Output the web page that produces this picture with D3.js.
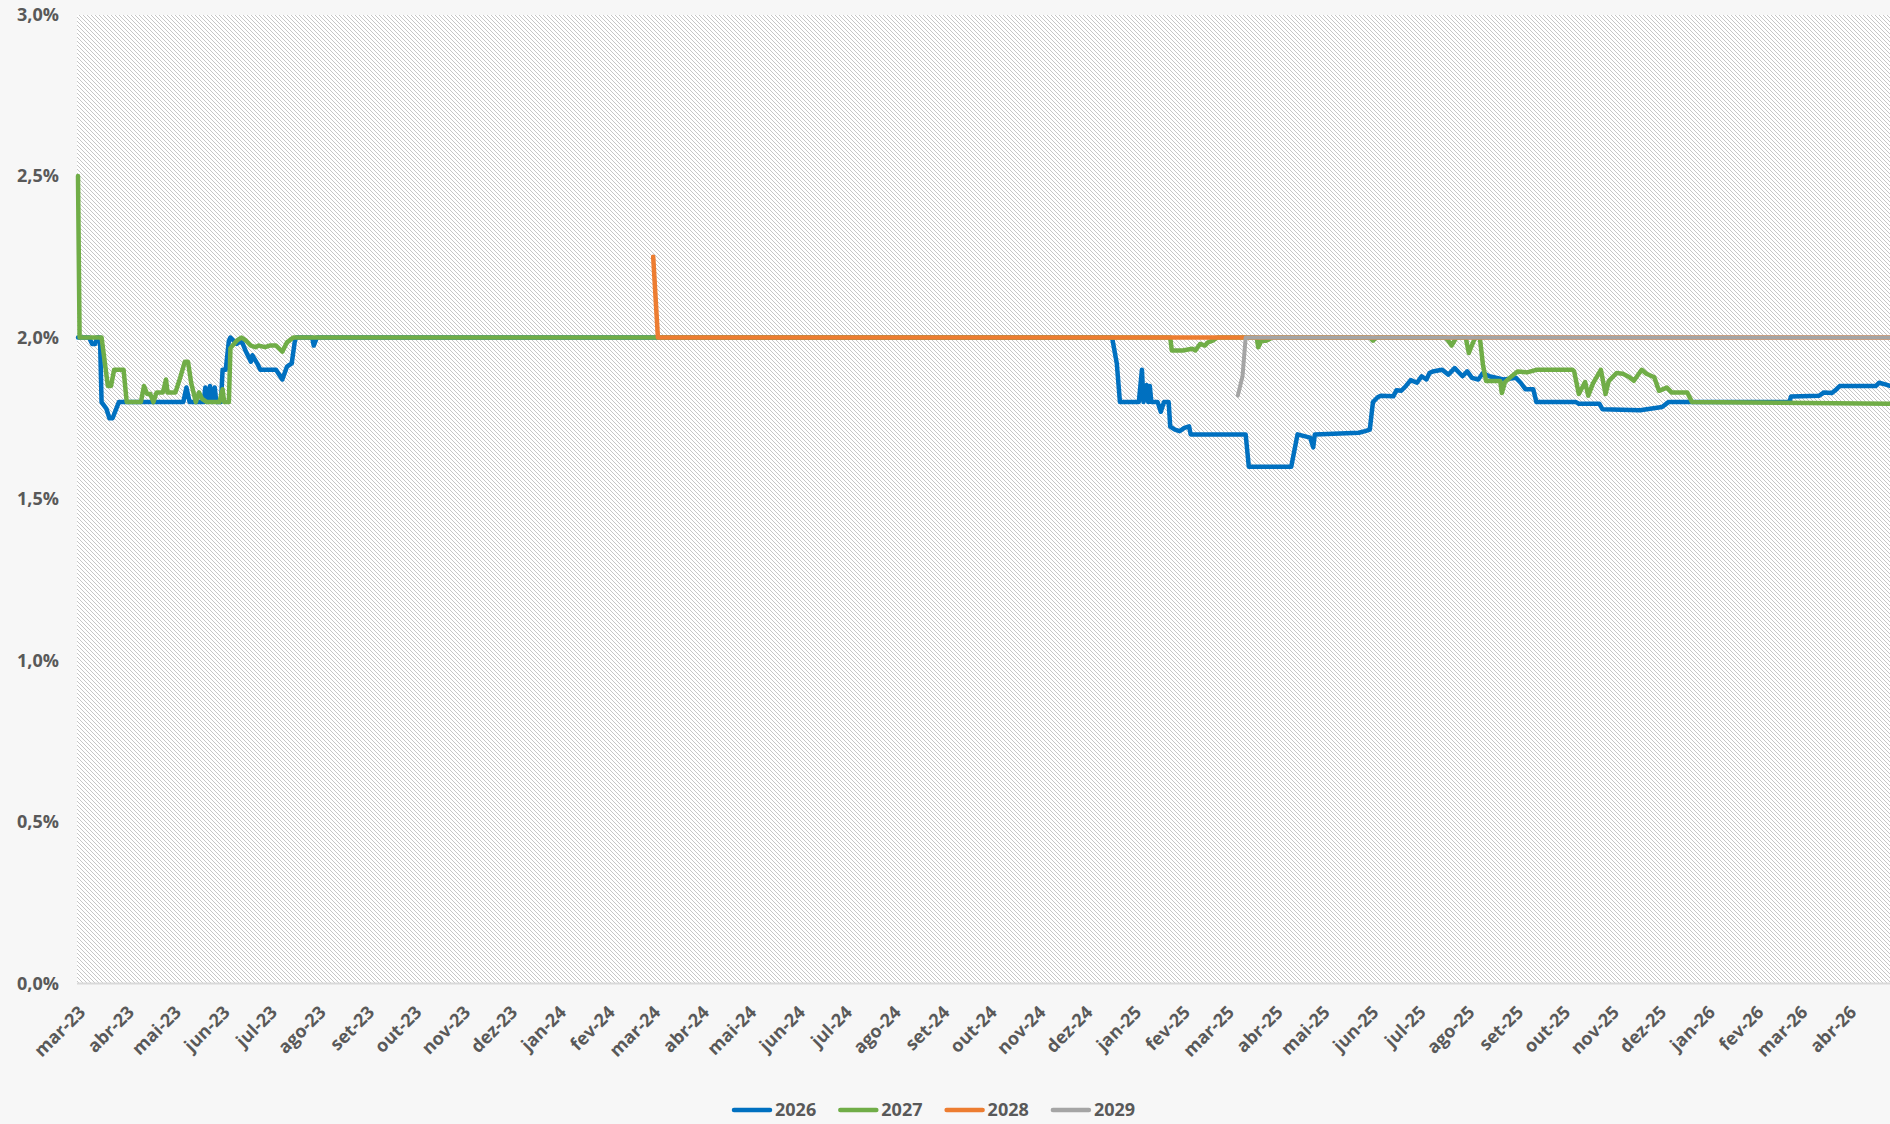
<!DOCTYPE html>
<html>
<head>
<meta charset="utf-8">
<script src="https://cdn.jsdelivr.net/npm/d3@7"></script>
<style>
    html, body { margin: 0; padding: 0; background: #f7f7f7; }
    svg { display: block; font-family: "Open Sans", sans-serif; }
</style>
</head>
<body>
<svg id="chart" width="1890" height="1124"></svg>
<script>
// Expectativas por ano-calendário (%), leitura do gráfico
const seriesNames = ["2026", "2027", "2028", "2029"];
const seriesColours = ["#0070C0", "#70AD47", "#ED7D31", "#A5A5A5"];

const yTicks = [0, 0.5, 1.0, 1.5, 2.0, 2.5, 3.0];
const monthNames = ["jan", "fev", "mar", "abr", "mai", "jun", "jul", "ago", "set", "out", "nov", "dez"];

const s2026 = [
    ["2023-03-01", 2.0], ["2023-03-08", 2.0], ["2023-03-10", 1.98], ["2023-03-12", 1.98],
    ["2023-03-13", 2.0], ["2023-03-15", 2.0], ["2023-03-16", 1.8], ["2023-03-19", 1.78],
    ["2023-03-21", 1.75], ["2023-03-23", 1.75], ["2023-03-27", 1.8], ["2023-05-07", 1.8],
    ["2023-05-09", 1.845], ["2023-05-11", 1.8], ["2023-05-20", 1.8], ["2023-05-21", 1.845],
    ["2023-05-22", 1.8], ["2023-05-24", 1.85], ["2023-05-25", 1.8], ["2023-05-27", 1.845],
    ["2023-05-28", 1.8], ["2023-05-31", 1.8], ["2023-06-01", 1.9], ["2023-06-03", 1.9],
    ["2023-06-05", 1.99], ["2023-06-06", 2.0], ["2023-06-10", 1.98], ["2023-06-13", 1.99],
    ["2023-06-16", 1.955], ["2023-06-19", 1.925], ["2023-06-20", 1.945], ["2023-06-23", 1.92],
    ["2023-06-25", 1.9], ["2023-07-05", 1.9], ["2023-07-09", 1.87], ["2023-07-12", 1.91],
    ["2023-07-15", 1.92], ["2023-07-17", 1.99], ["2023-07-18", 2.0], ["2023-07-28", 2.0],
    ["2023-07-29", 1.975], ["2023-07-31", 2.0], ["2024-12-18", 2.0], ["2024-12-21", 1.92],
    ["2024-12-23", 1.8], ["2025-01-04", 1.8], ["2025-01-06", 1.9], ["2025-01-07", 1.8],
    ["2025-01-09", 1.853], ["2025-01-10", 1.8], ["2025-01-11", 1.85], ["2025-01-12", 1.8],
    ["2025-01-16", 1.8], ["2025-01-18", 1.77], ["2025-01-20", 1.8], ["2025-01-23", 1.8],
    ["2025-01-24", 1.724], ["2025-01-27", 1.715], ["2025-01-30", 1.71], ["2025-02-02", 1.72],
    ["2025-02-05", 1.725], ["2025-02-06", 1.7], ["2025-03-13", 1.7], ["2025-03-15", 1.6],
    ["2025-04-11", 1.6], ["2025-04-15", 1.7], ["2025-04-23", 1.69], ["2025-04-25", 1.66],
    ["2025-04-26", 1.7], ["2025-05-24", 1.705], ["2025-05-28", 1.71], ["2025-05-31", 1.715],
    ["2025-06-02", 1.8], ["2025-06-05", 1.815], ["2025-06-07", 1.82], ["2025-06-15", 1.818],
    ["2025-06-17", 1.837], ["2025-06-20", 1.835], ["2025-06-23", 1.85], ["2025-06-26", 1.868],
    ["2025-06-30", 1.86], ["2025-07-03", 1.88], ["2025-07-06", 1.87], ["2025-07-08", 1.89],
    ["2025-07-10", 1.895], ["2025-07-16", 1.9], ["2025-07-20", 1.885], ["2025-07-24", 1.905],
    ["2025-07-29", 1.88], ["2025-08-01", 1.895], ["2025-08-04", 1.875], ["2025-08-08", 1.87],
    ["2025-08-11", 1.89], ["2025-08-15", 1.88], ["2025-08-24", 1.87], ["2025-09-01", 1.875],
    ["2025-09-04", 1.86], ["2025-09-07", 1.84], ["2025-09-12", 1.84], ["2025-09-14", 1.8],
    ["2025-10-09", 1.8], ["2025-10-11", 1.795], ["2025-10-24", 1.795], ["2025-10-26", 1.778],
    ["2025-11-19", 1.775], ["2025-12-03", 1.785], ["2025-12-07", 1.8], ["2026-02-22", 1.8],
    ["2026-02-23", 1.817], ["2026-03-13", 1.82], ["2026-03-16", 1.83], ["2026-03-21", 1.828],
    ["2026-03-24", 1.84], ["2026-03-26", 1.85], ["2026-04-18", 1.85], ["2026-04-20", 1.86],
    ["2026-04-24", 1.855], ["2026-04-27", 1.85]
];

const s2027 = [
    ["2023-03-01", 2.5], ["2023-03-02", 2.0], ["2023-03-16", 2.0], ["2023-03-20", 1.85],
    ["2023-03-22", 1.85], ["2023-03-24", 1.9], ["2023-03-30", 1.9], ["2023-04-01", 1.8],
    ["2023-04-10", 1.8], ["2023-04-12", 1.85], ["2023-04-14", 1.825], ["2023-04-16", 1.825],
    ["2023-04-18", 1.8], ["2023-04-20", 1.83], ["2023-04-24", 1.83], ["2023-04-26", 1.87],
    ["2023-04-27", 1.83], ["2023-05-02", 1.83], ["2023-05-05", 1.875], ["2023-05-08", 1.925],
    ["2023-05-10", 1.925], ["2023-05-12", 1.86], ["2023-05-15", 1.8], ["2023-05-17", 1.83],
    ["2023-05-19", 1.81], ["2023-05-22", 1.8], ["2023-05-30", 1.8], ["2023-06-01", 1.84],
    ["2023-06-02", 1.8], ["2023-06-05", 1.8], ["2023-06-06", 1.967], ["2023-06-10", 1.99],
    ["2023-06-13", 2.0], ["2023-06-16", 1.99], ["2023-06-19", 1.975], ["2023-06-22", 1.97],
    ["2023-06-24", 1.975], ["2023-06-28", 1.97], ["2023-07-01", 1.975], ["2023-07-05", 1.975],
    ["2023-07-09", 1.956], ["2023-07-12", 1.985], ["2023-07-16", 2.0], ["2025-01-24", 2.0],
    ["2025-01-25", 1.96], ["2025-02-01", 1.96], ["2025-02-07", 1.965], ["2025-02-09", 1.96],
    ["2025-02-12", 1.98], ["2025-02-15", 1.975], ["2025-02-17", 1.985], ["2025-02-20", 1.99],
    ["2025-02-23", 2.0], ["2025-03-20", 2.0], ["2025-03-21", 1.97], ["2025-03-23", 1.99],
    ["2025-03-26", 1.99], ["2025-03-30", 2.0], ["2025-05-31", 2.0], ["2025-06-02", 1.99],
    ["2025-06-04", 2.0], ["2025-07-18", 2.0], ["2025-07-20", 1.99], ["2025-07-22", 1.975],
    ["2025-07-25", 2.0], ["2025-07-31", 2.0], ["2025-08-02", 1.952], ["2025-08-06", 2.0],
    ["2025-08-09", 2.0], ["2025-08-11", 1.915], ["2025-08-13", 1.865], ["2025-08-22", 1.865],
    ["2025-08-23", 1.828], ["2025-08-25", 1.862], ["2025-08-28", 1.875], ["2025-09-02", 1.895],
    ["2025-09-08", 1.892], ["2025-09-14", 1.9], ["2025-10-07", 1.9], ["2025-10-08", 1.895],
    ["2025-10-11", 1.825], ["2025-10-15", 1.862], ["2025-10-17", 1.82], ["2025-10-20", 1.858],
    ["2025-10-25", 1.9], ["2025-10-28", 1.825], ["2025-10-30", 1.865], ["2025-11-04", 1.89],
    ["2025-11-08", 1.888], ["2025-11-12", 1.878], ["2025-11-15", 1.866], ["2025-11-20", 1.9],
    ["2025-11-23", 1.888], ["2025-11-28", 1.877], ["2025-12-01", 1.835], ["2025-12-06", 1.845],
    ["2025-12-09", 1.83], ["2025-12-19", 1.83], ["2025-12-22", 1.8], ["2026-04-27", 1.795]
];

const s2028 = [
    ["2024-03-01", 2.25], ["2024-03-04", 2.0], ["2026-04-27", 2.0]
];

const s2029 = [
    ["2025-03-08", 1.82], ["2025-03-11", 1.88], ["2025-03-12", 1.94], ["2025-03-13", 2.0],
    ["2026-04-27", 2.0]
];

const allSeries = [s2026, s2027, s2028, s2029];

const parseDate = d3.timeParse("%Y-%m-%d");
const startDate = parseDate("2023-03-01");
const endDate = parseDate("2026-04-27");

const svg = d3.select("#chart");
const plotLeft = 78;
const plotRight = 1890;
const plotTop = 14.5;
const plotBottom = 983.5;

const x = d3.scaleTime().domain([startDate, endDate]).range([plotLeft, plotRight]);
const y = d3.scaleLinear().domain([0, 3]).range([plotBottom, plotTop]);

// hatch pattern for plot area ("\" direction, 4px period)
const defs = svg.append("defs");
const pat = defs
    .append("pattern")
    .attr("id", "hatch")
    .attr("patternUnits", "userSpaceOnUse")
    .attr("width", 4)
    .attr("height", 4);
pat.append("rect").attr("width", 4).attr("height", 4).attr("fill", "#ffffff");
pat.selectAll("rect.px")
    .data(d3.range(4))
    .join("rect")
    .attr("class", "px")
    .attr("x", (d) => d)
    .attr("y", (d) => d)
    .attr("width", 1)
    .attr("height", 1)
    .attr("fill", "#c6c6c6");

svg.append("rect")
    .attr("x", plotLeft - 1)
    .attr("y", plotTop)
    .attr("width", plotRight - plotLeft + 1)
    .attr("height", plotBottom - plotTop)
    .attr("fill", "url(#hatch)")
    .attr("shape-rendering", "crispEdges");

// bottom axis line
svg.append("line")
    .attr("x1", plotLeft - 1)
    .attr("x2", plotRight)
    .attr("y1", plotBottom)
    .attr("y2", plotBottom)
    .attr("stroke", "#d9d9d9")
    .attr("stroke-width", 2);

// y axis labels
const yFmt = (v) => v.toFixed(1).replace(".", ",") + "%";
svg.append("g")
    .selectAll("text")
    .data(yTicks)
    .join("text")
    .attr("x", 59)
    .attr("y", (d) => y(d))
    .attr("dy", "0.35em")
    .attr("text-anchor", "end")
    .attr("font-size", 18)
    .attr("font-weight", 700)
    .attr("fill", "#595959")
    .text(yFmt);

// x axis labels (months)
const months = d3.timeMonth.range(startDate, d3.timeDay.offset(endDate, 1));
const xFmt = (d) => monthNames[d.getMonth()] + "-" + String(d.getFullYear()).slice(2);
svg.append("g")
    .selectAll("text")
    .data(months)
    .join("text")
    .attr("transform", (d) => `translate(${x(d) + 4}, 1009) rotate(-45)`)
    .attr("dy", "0.35em")
    .attr("text-anchor", "end")
    .attr("font-size", 18)
    .attr("font-weight", 700)
    .attr("fill", "#595959")
    .text(xFmt);

// lines
const line = d3
    .line()
    .x((d) => x(parseDate(d[0])))
    .y((d) => y(d[1]));

svg.append("g")
    .selectAll("path")
    .data(allSeries)
    .join("path")
    .attr("d", line)
    .attr("fill", "none")
    .attr("stroke", (d, i) => seriesColours[i])
    .attr("stroke-width", (d, i) => (i === 3 ? 4 : 4.5))
    .attr("stroke-linejoin", "round")
    .attr("stroke-linecap", "round");

// legend
const legend = svg
    .append("g")
    .selectAll("g")
    .data(seriesNames)
    .join("g")
    .attr("transform", (d, i) => `translate(${732 + i * 106.3}, 1110)`);

legend.append("line")
    .attr("x1", 2)
    .attr("x2", 38)
    .attr("stroke", (d, i) => seriesColours[i])
    .attr("stroke-width", 4.5)
    .attr("stroke-linecap", "round");

legend.append("text")
    .attr("x", 43)
    .attr("dy", "0.35em")
    .attr("font-size", 18)
    .attr("font-weight", 700)
    .attr("fill", "#595959")
    .text((d) => d);
</script>
</body>
</html>
